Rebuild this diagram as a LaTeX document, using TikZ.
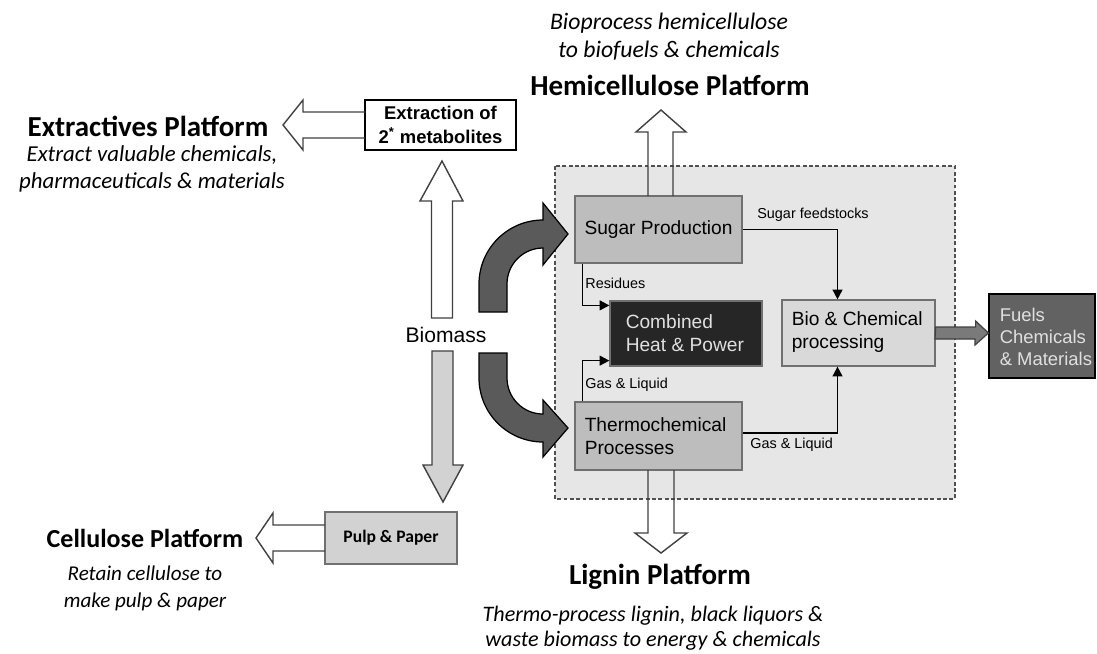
\documentclass[tikz,border=0pt]{standalone}
\usepackage{fontspec}
\setmainfont{Carlito}
\newfontfamily\arialfont{Liberation Sans}
\usetikzlibrary{arrows.meta,calc}

\definecolor{regionfill}{HTML}{E6E6E6}
\definecolor{regionedge}{HTML}{505050}
\definecolor{procfill}{HTML}{BDBDBD}
\definecolor{procedge}{HTML}{707070}
\definecolor{biofill}{HTML}{D9D9D9}
\definecolor{chpfill}{HTML}{262626}
\definecolor{fuelfill}{HTML}{626262}
\definecolor{pulpfill}{HTML}{D2D2D2}
\definecolor{curvefill}{HTML}{5A5A5A}
\definecolor{hollowedge}{HTML}{404040}
\definecolor{outfill}{HTML}{7A7A7A}
\definecolor{lighttext}{HTML}{E0E0E0}

\begin{document}
\begin{tikzpicture}[x=0.02cm,y=-0.02cm,
  procbox/.style={draw=procedge, line width=0.7pt, inner sep=0pt},
  boxtext/.style={anchor=west, align=left, inner sep=0pt,
    font=\arialfont\fontsize{10.9}{13}\selectfont},
  hollow/.style={draw=hollowedge, line width=0.8pt, line join=miter},
  flow/.style={draw=black, line width=1pt,
    -{Triangle[length=5.5pt,width=5.5pt]}},
  lbl/.style={font=\arialfont\fontsize{8.2}{10}\selectfont, anchor=west, inner sep=0pt},
  platform/.style={font=\bfseries\fontsize{16.5}{19}\selectfont, inner sep=0pt},
  subtitle/.style={font=\itshape\fontsize{13}{15.6}\selectfont, align=center, inner sep=0pt}]

\useasboundingbox (0,0) rectangle (1097,653);

% integrated biorefinery region
\draw[fill=regionfill, draw=regionedge, line width=0.8pt,
      dash pattern=on 2.2pt off 1.4pt] (555,166) rectangle (955,499);

% process boxes
\node[procbox, fill=procfill, minimum width=3.34cm, minimum height=1.34cm,
      font=\arialfont\fontsize{10.9}{13}\selectfont]
  (sugar) at (658.5,229.5) {Sugar Production};
\node[procbox, fill=chpfill, minimum width=3.04cm, minimum height=1.30cm]
  (chp) at (686,333.5) {};
\node[boxtext, text=lighttext] (chptext) at ($(chp.west)+(16,0)$) {Combined\\Heat \& Power};
\node[procbox, fill=biofill, minimum width=3.06cm, minimum height=1.32cm]
  (bio) at (858.5,333) {};
\node[boxtext] (biotext) at ($(bio.west)+(10,-1)$) {Bio \& Chemical\\processing};
\node[procbox, fill=procfill, minimum width=3.34cm, minimum height=1.36cm]
  (thermo) at (658.5,436) {};
\node[boxtext] (thermotext) at ($(thermo.west)+(10,0)$) {Thermochemical\\Processes};
\node[procbox, draw=black, fill=fuelfill, minimum width=2.12cm, minimum height=1.68cm]
  (fuels) at (1042,336) {};
\node[boxtext, text=lighttext, font=\arialfont\fontsize{10.5}{12.6}\selectfont]
  (fuelstext) at ($(fuels.west)+(11,1)$) {Fuels\\Chemicals\\\& Materials};

\node[draw=black, line width=0.7pt, fill=white, minimum width=3.02cm, minimum height=1.0cm,
      align=center, inner sep=0pt, font=\arialfont\bfseries\fontsize{10.5}{13.5}\selectfont]
  (extract) at (440.5,125) {Extraction of\\2\textsuperscript{*} metabolites};
\node[draw=procedge, line width=0.7pt, fill=pulpfill, minimum width=2.64cm, minimum height=1.04cm,
      inner sep=0pt, font=\bfseries\fontsize{10}{12}\selectfont]
  (pulp) at (391,538) {Pulp \& Paper};

\node[font=\arialfont\fontsize{12}{14}\selectfont, inner sep=0pt] (biomass) at (446,335) {Biomass};

% platform titles and descriptions
\node[platform] (extplat) at (148,126) {Extractives Platform};
\node[subtitle] (extdesc) at (152,169) {Extract valuable chemicals,\\pharmaceuticals \& materials};
\node[platform] (hemiplat) at (670,85) {Hemicellulose Platform};
\node[subtitle, font=\itshape\fontsize{13.5}{16}\selectfont]
  (hemidesc) at (669,37) {Bioprocess hemicellulose\\to biofuels \& chemicals};
\node[platform, font=\bfseries\fontsize{14.8}{17}\selectfont] (celplat) at (145,538) {Cellulose Platform};
\node[subtitle, font=\itshape\fontsize{12}{15.3}\selectfont]
  (celdesc) at (145,588) {Retain cellulose to\\make pulp \& paper};
\node[platform] (ligplat) at (660,577) {Lignin Platform};
\node[subtitle, font=\itshape\fontsize{12.6}{14.5}\selectfont]
  (ligdesc) at (653,628) {Thermo-process lignin, black liquors \&\\waste biomass to energy \& chemicals};

% hollow platform arrows
\draw[hollow] (365,112) -- (303,112) -- (303,100) -- (283,125) -- (303,150) -- (303,138) -- (365,138);
\draw[hollow] (325,525) -- (273,525) -- (273,513) -- (256,538) -- (273,563) -- (273,551) -- (325,551);
\draw[hollow] (648,196) -- (648,132) -- (636,132) -- (661,110) -- (686,132) -- (673,132) -- (673,196);
\draw[hollow] (648,470) -- (648,533) -- (635,533) -- (661,553) -- (687,533) -- (674,533) -- (674,470);

% biomass to extraction and to pulp & paper
\draw[hollow, fill=white] (431.5,318) -- (431.5,201) -- (420,201) -- (442,161) -- (463,201)
  -- (452.5,201) -- (452.5,318) -- cycle;
\draw[hollow, fill=pulpfill] (432,351) -- (432,465) -- (423,465) -- (443,502) -- (463,465)
  -- (453,465) -- (453,351) -- cycle;

% curved feed arrows
\draw[fill=curvefill, draw=black, line width=0.7pt]
  (479,312) -- (479,284) arc[start angle=180, end angle=270, radius=64]
  -- (543,203) -- (568,234) -- (543,265) -- (543,248)
  arc[start angle=270, end angle=180, radius=36] -- (507,312) -- cycle;
\draw[fill=curvefill, draw=black, line width=0.7pt]
  (479,353) -- (479,378) arc[start angle=180, end angle=90, radius=64]
  -- (543,457) -- (568,428) -- (543,400) -- (543,414)
  arc[start angle=90, end angle=180, radius=36] -- (507,353) -- cycle;

% product arrow
\draw[fill=outfill, draw=hollowedge, line width=0.7pt]
  (bio.east) ++(0,-6) -- ++(40,0) -- ++(0,-6) -- (fuels.west |- bio.east) -- (975,345)
  -- ++(0,-6) -- (935,339) -- cycle;

% internal flows
\draw[flow] (sugar.east) -| ($(bio.north)+(-21,0)$);
\node[lbl] (sugarlbl) at (757,215) {Sugar feedstocks};
\draw[flow] ($(sugar.south west)+(8,0)$) |- ($(chp.north west)+(0,5)$);
\node[lbl] (reslbl) at (585,283) {Residues};
\draw[flow] ($(thermo.north west)+(8,0)$) |- ($(chp.south west)+(0,-6)$);
\node[lbl] (gas1lbl) at (585,385) {Gas \& Liquid};
\draw[flow] ($(thermo.east)+(0,-3)$) -| ($(bio.south)+(-21,0)$);
\node[lbl] (gas2lbl) at (750,445) {Gas \& Liquid};

\end{tikzpicture}
\end{document}
